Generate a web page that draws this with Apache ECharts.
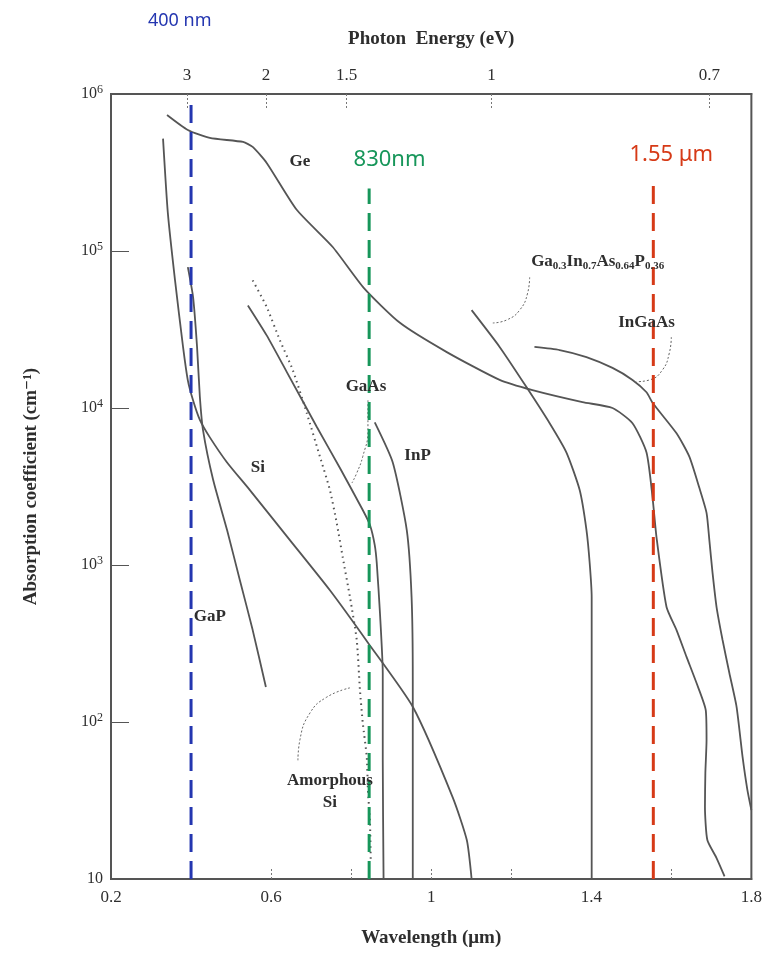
<!DOCTYPE html>
<html>
<head>
<meta charset="utf-8">
<script src="https://cdn.jsdelivr.net/npm/echarts@6/dist/echarts.min.js"></script>
<style>
  html, body { margin: 0; padding: 0; background: #fff; }
  #chart { width: 765px; height: 953px; }
</style>
</head>
<body>
<div id="chart"></div>
<script>
// axis ticks
const wavelengthLabels = [0.2, 0.6, 1, 1.4, 1.8];
const wavelengthTicks = [0.4, 0.6, 0.8, 1.0, 1.2, 1.4, 1.6];
const energyLabels = ['3', '2', '1.5', '1', '0.7'];
const energyTickPos = [0.39, 0.587, 0.789, 1.151, 1.695];

// curves: wavelength (um) / absorption coefficient (cm^-1)
const geWl = [0.34, 0.392, 0.447, 0.53, 0.554, 0.589, 0.664, 0.754, 0.832, 0.921, 1.039, 1.171, 1.253, 1.378, 1.453, 1.503, 1.538, 1.553, 1.563, 1.588, 1.613, 1.638, 1.663, 1.686, 1.688, 1.685, 1.684, 1.69, 1.713, 1.733];
const geAlpha = [7.35e5, 5.9e5, 5.25e5, 4.95e5, 4.6e5, 3.64e5, 1.83e5, 1.06e5, 5.8e4, 3.5e4, 2.27e4, 1.51e4, 1.3e4, 1.09e4, 1.0e4, 8.0e3, 5.2e3, 2.7e3, 1.5e3, 540, 385, 260, 177, 119, 77, 47, 29, 17.7, 13.6, 10.4];

const siWl = [0.33, 0.342, 0.36, 0.38, 0.392, 0.405, 0.422, 0.447, 0.49, 0.547, 0.647, 0.747, 0.842, 0.954, 1.054, 1.089, 1.101];
const siAlpha = [5.2e5, 1.75e5, 6.5e4, 2.45e4, 1.5e4, 1.12e4, 8.4e3, 6.5e3, 4.5e3, 3.0e3, 1.44e3, 690, 320, 125, 33, 17.7, 10];

const gapWl = [0.392, 0.405, 0.415, 0.422, 0.43, 0.455, 0.49, 0.522, 0.554, 0.587];
const gapAlpha = [7.9e4, 5.1e4, 2.45e4, 1.18e4, 7.2e3, 3.5e3, 1.67e3, 800, 385, 167];

const gaasWl = [0.542, 0.589, 0.639, 0.714, 0.772, 0.829, 0.847, 0.859, 0.864, 0.872, 0.879, 0.879, 0.881];
const gaasAlpha = [4.5e4, 2.9e4, 1.7e4, 7.6e3, 4.15e3, 2.24e3, 1.8e3, 1.34e3, 1.03e3, 495, 205, 57, 10];

const aSiWl = [0.554, 0.589, 0.622, 0.654, 0.689, 0.722, 0.747, 0.764, 0.779, 0.797, 0.814, 0.822, 0.829, 0.839, 0.842, 0.847, 0.849];
const aSiAlpha = [6.5e4, 4.4e4, 2.7e4, 1.75e4, 9.3e3, 4.9e3, 3.0e3, 1.85e3, 1.12e3, 625, 333, 160, 99, 60, 37, 23, 13];

const inpWl = [0.859, 0.904, 0.939, 0.951, 0.954, 0.954, 0.954];
const inpAlpha = [8.1e3, 4.5e3, 1.67e3, 625, 185, 57, 10];

const gainasPWl = [1.101, 1.171, 1.238, 1.296, 1.338, 1.371, 1.388, 1.396, 1.401, 1.401, 1.401, 1.401];
const gainasPAlpha = [4.2e4, 2.45e4, 1.36e4, 8.0e3, 5.2e3, 3.0e3, 1.67e3, 1.03e3, 625, 300, 57, 10];

const ingaasWl = [1.258, 1.321, 1.388, 1.453, 1.503, 1.538, 1.553, 1.613, 1.645, 1.67, 1.688, 1.695, 1.703, 1.713, 1.728, 1.745, 1.763, 1.778, 1.79, 1.80];
const ingaasAlpha = [2.45e4, 2.34e4, 2.11e4, 1.8e4, 1.51e4, 1.26e4, 1.08e4, 6.9e3, 4.9e3, 3.1e3, 2.15e3, 1.44e3, 890, 540, 333, 205, 125, 60, 37, 27.5];

// dotted leader lines from labels to curves
const leaderGaasWl = [0.842, 0.842, 0.829, 0.814, 0.802];
const leaderGaasAlpha = [1.12e4, 7.2e3, 4.9e3, 3.85e3, 3.33e3];
const leaderASiWl = [0.667, 0.672, 0.697, 0.739, 0.797];
const leaderASiAlpha = [57, 77, 114, 144, 165];
const leaderGainasPWl = [1.246, 1.241, 1.221, 1.189, 1.154];
const leaderGainasPAlpha = [6.8e4, 5.4e4, 4.2e4, 3.64e4, 3.48e4];
const leaderIngaasWl = [1.60, 1.595, 1.578, 1.546, 1.513];
const leaderIngaasAlpha = [2.83e4, 2.24e4, 1.75e4, 1.51e4, 1.47e4];

// marked wavelengths (hand drawn dashed lines)
const markerWl = [0.40, 0.845, 1.555];
const markerTop = [9e5, 2.5e5, 2.9e5];
const markerColors = ['#2436b0', '#17965a', '#d63a17'];

// curve labels
const labelText = ['Ge', 'GaAs', 'InP', 'Si', 'GaP', 'Amorphous\nSi', 'Ga{s|0.3}In{s|0.7}As{s|0.64}P{s|0.36}', 'InGaAs'];
const labelWl = [0.672, 0.837, 0.966, 0.567, 0.447, 0.747, 1.416, 1.538];
const labelAlpha = [3.69e5, 1.36e4, 5.0e3, 4.15e3, 467, 35.8, 8.5e4, 3.5e4];

const noteText = ['830nm', '1.55 \u03bcm'];
const noteWl = [0.896, 1.60];
const noteAlpha = [3.8e5, 4.1e5];

const serif = '"Liberation Serif", "DejaVu Serif", serif';
const ink = '#2e2e2e';

function zip(xs, ys) { return xs.map((x, i) => [x, ys[i]]); }

function curve(name, wl, alpha, extra) {
    return Object.assign({
        name: name,
        type: 'line',
        data: zip(wl, alpha),
        symbol: 'none',
        smooth: 0.2,
        silent: true,
        z: 2,
        lineStyle: { color: '#555', width: 1.8 }
    }, extra || {});
}

function leader(wl, alpha) {
    return {
        type: 'line',
        data: zip(wl, alpha),
        symbol: 'none',
        smooth: 0.5,
        silent: true,
        z: 2,
        lineStyle: { color: '#666', width: 1, type: [2, 2] }
    };
}

const chart = echarts.init(document.getElementById('chart'));

const series = [
    curve('Ge', geWl, geAlpha),
    curve('Si', siWl, siAlpha),
    curve('GaP', gapWl, gapAlpha),
    curve('GaAs', gaasWl, gaasAlpha),
    curve('Amorphous Si', aSiWl, aSiAlpha, { lineStyle: { color: '#555', width: 2, type: [1.5, 4] } }),
    curve('InP', inpWl, inpAlpha),
    curve('GaInAsP', gainasPWl, gainasPAlpha),
    curve('InGaAs', ingaasWl, ingaasAlpha),
    leader(leaderGaasWl, leaderGaasAlpha),
    leader(leaderASiWl, leaderASiAlpha),
    leader(leaderGainasPWl, leaderGainasPAlpha),
    leader(leaderIngaasWl, leaderIngaasAlpha)
];

markerWl.forEach((w, i) => {
    series.push({
        type: 'line',
        data: [[w, 10], [w, markerTop[i]]],
        symbol: 'none',
        silent: true,
        z: 3,
        lineStyle: { color: markerColors[i], width: 3, type: [18, 9] }
    });
});

series.push({
    type: 'scatter',
    symbolSize: 1,
    silent: true,
    z: 5,
    itemStyle: { color: 'rgba(0,0,0,0)', opacity: 1 },
    data: labelText.map((t, i) => ({ value: [labelWl[i], labelAlpha[i]], name: t })),
    label: {
        show: true,
        position: 'inside',
        formatter: p => p.name,
        color: ink,
        fontFamily: serif,
        fontWeight: 'bold',
        fontSize: 17,
        lineHeight: 22,
        rich: {
            s: { fontFamily: serif, fontWeight: 'bold', fontSize: 11, color: ink, padding: [9, 0, 0, 0] }
        }
    }
});

series.push({
    type: 'scatter',
    symbolSize: 1,
    silent: true,
    z: 5,
    itemStyle: { color: 'rgba(0,0,0,0)', opacity: 1 },
    data: noteText.map((t, i) => ({
        value: [noteWl[i], noteAlpha[i]],
        name: t,
        label: { color: markerColors[i + 1] }
    })),
    label: {
        show: true,
        position: 'inside',
        formatter: p => p.name,
        fontFamily: '"Noto Sans", sans-serif',
        fontSize: 22
    }
});

const option = {
    backgroundColor: '#fff',
    animation: false,
    grid: {
        left: 111, right: 13, top: 94, bottom: 74,
        show: true, borderColor: '#555', borderWidth: 2
    },
    graphic: [{
        type: 'text',
        left: 148, top: 12,
        style: { text: '400 nm', fill: markerColors[0], font: '18px "Noto Sans", sans-serif' }
    }],
    xAxis: [{
        type: 'value',
        position: 'bottom',
        min: 0.2, max: 1.8,
        splitLine: { show: false },
        axisLine: { show: true, lineStyle: { color: '#555', width: 2 } },
        axisTick: {
            show: true, inside: true, length: 12,
            customValues: wavelengthTicks,
            lineStyle: { color: '#777', width: 1, type: [2, 2] }
        },
        axisLabel: {
            customValues: wavelengthLabels,
            formatter: v => String(Math.round(v * 10) / 10),
            color: ink, fontFamily: serif, fontSize: 17, margin: 10
        },
        name: 'Wavelength (\u03bcm)',
        nameLocation: 'middle',
        nameGap: 50,
        nameTextStyle: { color: ink, fontFamily: serif, fontWeight: 'bold', fontSize: 19 }
    }, {
        type: 'value',
        position: 'top',
        min: 0.2, max: 1.8,
        splitLine: { show: false },
        axisLine: { show: true, lineStyle: { color: '#555', width: 2 } },
        axisTick: {
            show: true, inside: true, length: 15,
            customValues: energyTickPos,
            lineStyle: { color: '#777', width: 1, type: [2, 2] }
        },
        axisLabel: {
            customValues: energyTickPos,
            formatter: v => energyLabels[energyTickPos.indexOf(v)],
            color: ink, fontFamily: serif, fontSize: 17, margin: 10
        },
        name: 'Photon  Energy (eV)',
        nameLocation: 'middle',
        nameGap: 45,
        nameTextStyle: { color: ink, fontFamily: serif, fontWeight: 'bold', fontSize: 19 }
    }],
    yAxis: {
        type: 'log',
        logBase: 10,
        min: 10, max: 1e6,
        splitLine: { show: false },
        axisLine: { show: true, lineStyle: { color: '#555', width: 2 } },
        axisTick: { show: true, inside: true, length: 18, lineStyle: { color: '#555', width: 1 } },
        axisLabel: {
            color: ink, fontFamily: serif, fontSize: 16, margin: 8,
            formatter: v => {
                const e = Math.round(Math.log10(v));
                return e === 1 ? '10' : '10{p|' + e + '}';
            },
            rich: {
                p: { fontFamily: serif, fontSize: 12, color: ink, padding: [0, 0, 8, 0] }
            }
        },
        name: 'Absorption coefficient (cm\u207b\u00b9)',
        nameLocation: 'middle',
        nameGap: 70,
        nameRotate: 90,
        nameTextStyle: { color: ink, fontFamily: serif, fontWeight: 'bold', fontSize: 19 }
    },
    series: series
};

chart.setOption(option);
window.addEventListener('resize', () => chart.resize());
</script>
</body>
</html>
